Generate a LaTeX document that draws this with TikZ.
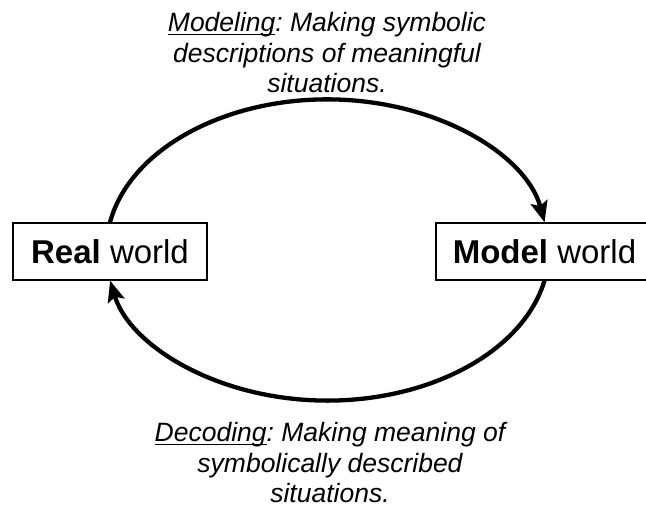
\documentclass[tikz,border=0pt]{standalone}
\usepackage{fontspec}
\setmainfont{Liberation Sans}
\usetikzlibrary{arrows.meta}
\frenchspacing
\newcommand\myul[1]{\setbox0\hbox{#1}\rlap{\rule[-3pt]{\wd0}{1.2pt}}\box0}
\begin{document}
\begin{tikzpicture}[x=1pt,y=1pt,
  box/.style={draw, line width=1.2pt, inner sep=0pt, minimum height=57pt, font=\fontsize{33}{36}\selectfont},
  cyc/.style={line width=4.3pt, -{Stealth[length=21pt,width=17pt,inset=4pt]}},
  lbl/.style={align=center, inner sep=0pt, font=\fontsize{26.5}{30.5}\selectfont\itshape\frenchspacing}]
\useasboundingbox (0,0) rectangle (646,510);
\node[box, minimum width=194pt] (real) at (110,258.5) {\textbf{Real} world};
\node[box, minimum width=217pt] (model) at (544.5,258.5) {\textbf{Model} world};
\draw[cyc] (real.north) arc[start angle=169.63, end angle=10.37, x radius=220.9, y radius=150];
\draw[cyc] (model.south) arc[start angle=-11.54, end angle=-168.46, x radius=221.7, y radius=150];
\node[lbl, anchor=base] (top) at (327,417) {\myul{Modeling}: Making symbolic\\descriptions of meaningful\\situations.};
\node[lbl, anchor=base] (bot) at (330,7) {\myul{Decoding}: Making meaning of\\symbolically described\\situations.};
\end{tikzpicture}
\end{document}
